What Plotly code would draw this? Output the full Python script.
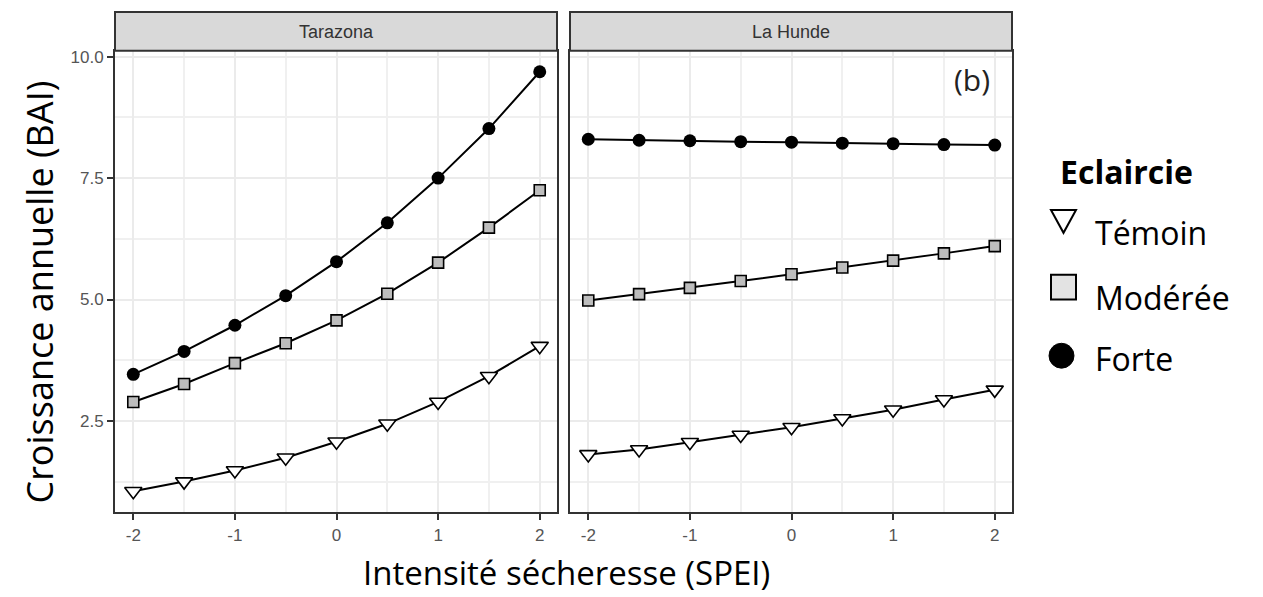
import plotly.graph_objects as go

# ---- data ----
spei = [-2, -1.5, -1, -0.5, 0, 0.5, 1, 1.5, 2]
sites = ["Tarazona", "La Hunde"]
treatments = ["Témoin", "Modérée", "Forte"]

taraz_temoin = [1.05, 1.25, 1.48, 1.74, 2.07, 2.44, 2.89, 3.42, 4.04]
taraz_moderee = [2.89, 3.26, 3.69, 4.10, 4.57, 5.12, 5.76, 6.48, 7.25]
taraz_forte = [3.46, 3.93, 4.47, 5.08, 5.78, 6.58, 7.50, 8.52, 9.69]

hunde_temoin = [1.81, 1.91, 2.06, 2.21, 2.37, 2.55, 2.73, 2.94, 3.14]
hunde_moderee = [4.98, 5.11, 5.24, 5.38, 5.52, 5.66, 5.80, 5.95, 6.10]
hunde_forte = [8.30, 8.28, 8.27, 8.25, 8.24, 8.22, 8.21, 8.19, 8.18]

y_tickvals = [2.5, 5.0, 7.5, 10.0]
y_ticktext = ["2.5", "5.0", "7.5", "10.0"]
x_tickvals = [-2, -1, 0, 1, 2]
x_ticktext = ["-2", "-1", "0", "1", "2"]

legend_title = "Eclaircie"

# ---- styles ----
W, H = 1263, 597
marker_styles = {
    "Témoin": dict(symbol="triangle-down", size=15, color="white", line=dict(color="black", width=1.6)),
    "Modérée": dict(symbol="square", size=11, color="#bdbdbd", line=dict(color="black", width=1.6)),
    "Forte": dict(symbol="circle", size=13, color="black", line=dict(color="black", width=0)),
}

data = {
    ("Tarazona", "Témoin"): taraz_temoin,
    ("Tarazona", "Modérée"): taraz_moderee,
    ("Tarazona", "Forte"): taraz_forte,
    ("La Hunde", "Témoin"): hunde_temoin,
    ("La Hunde", "Modérée"): hunde_moderee,
    ("La Hunde", "Forte"): hunde_forte,
}

def px_x(p):
    return p / W

def px_y(p):
    return (H - p) / H

dom_left = [px_x(115), px_x(557)]
dom_right = [px_x(570), px_x(1012)]
dom_y = [px_y(512), px_y(48)]

fig = go.Figure()

axis_refs = {"Tarazona": ("x", "y"), "La Hunde": ("x2", "y2")}
for site in sites:
    xa, ya = axis_refs[site]
    for t in treatments:
        fig.add_trace(go.Scatter(
            x=spei, y=data[(site, t)], mode="lines+markers",
            line=dict(color="black", width=2),
            marker=marker_styles[t], xaxis=xa, yaxis=ya,
            showlegend=False, name=t, cliponaxis=False,
        ))

tick_font = dict(family="Liberation Sans, Arial", size=17, color="#555555")
common_x = dict(
    range=[-2.18, 2.17], tickvals=x_tickvals, ticktext=x_ticktext,
    showgrid=True, gridcolor="#ebebeb", gridwidth=2,
    minor=dict(dtick=0.5, tick0=0, showgrid=True, gridcolor="#f0f0f0", gridwidth=1.5, ticks=""),
    ticks="outside", ticklen=6, tickwidth=2, tickcolor="#333333",
    showline=True, mirror=True, linecolor="#333333", linewidth=2,
    zeroline=False, tickfont=tick_font,
)
common_y = dict(
    range=[0.615, 10.123], tickvals=y_tickvals, ticktext=y_ticktext,
    showgrid=True, gridcolor="#ebebeb", gridwidth=2,
    minor=dict(dtick=1.25, tick0=0, showgrid=True, gridcolor="#f0f0f0", gridwidth=1.5, ticks=""),
    ticks="outside", ticklen=6, tickwidth=2, tickcolor="#333333",
    showline=True, mirror=True, linecolor="#333333", linewidth=2,
    zeroline=False, tickfont=tick_font, domain=dom_y,
)

fig.update_layout(
    xaxis=dict(common_x, domain=dom_left, anchor="y"),
    xaxis2=dict(common_x, domain=dom_right, anchor="y2"),
    yaxis=dict(common_y, anchor="x"),
    yaxis2=dict(common_y, anchor="x2", showticklabels=False, ticks=""),
)

# strips
for dom, site in [(dom_left, "Tarazona"), (dom_right, "La Hunde")]:
    fig.add_shape(type="rect", xref="paper", yref="paper",
                  x0=dom[0], x1=dom[1], y0=px_y(48), y1=px_y(9),
                  fillcolor="#d9d9d9", line=dict(color="#333333", width=2))
    fig.add_annotation(x=(dom[0] + dom[1]) / 2, y=px_y(29), xref="paper", yref="paper",
                       text=site, showarrow=False, xanchor="center", yanchor="middle",
                       font=dict(family="Liberation Sans, Arial", size=18, color="#333333"))

# panel tag
fig.add_annotation(x=px_x(992), y=px_y(77), xref="paper", yref="paper", text="(b)",
                   showarrow=False, xanchor="right", yanchor="middle",
                   font=dict(family="Open Sans", size=30, color="#222222"))

# axis titles
fig.add_annotation(x=px_x(40), y=px_y(291), xref="paper", yref="paper",
                   text="Croissance annuelle (BAI)", textangle=-90, showarrow=False,
                   xanchor="center", yanchor="middle",
                   font=dict(family="Open Sans", size=36, color="black"))
fig.add_annotation(x=px_x(566), y=0, xref="paper", yref="paper",
                   text="Intensité sécheresse (SPEI)", showarrow=False,
                   xanchor="center", yanchor="bottom",
                   font=dict(family="Open Sans", size=33, color="black"))

# ---- custom legend (drawn as in the reference) ----
fig.add_annotation(x=px_x(1058), y=px_y(169), xref="paper", yref="paper",
                   text="<b>%s</b>" % legend_title, showarrow=False,
                   xanchor="left", yanchor="middle",
                   font=dict(family="Open Sans", size=32, color="black"))
legend_rows = {"Témoin": 231, "Modérée": 296, "Forte": 357}
for t in treatments:
    fig.add_annotation(x=px_x(1093), y=px_y(legend_rows[t]), xref="paper", yref="paper",
                       text=t, showarrow=False, xanchor="left", yanchor="middle",
                       font=dict(family="Open Sans", size=32, color="black"))

# triangle (open, pointing down)
tri = "M %f %f L %f %f L %f %f Z" % (px_x(1051), px_y(208), px_x(1076), px_y(208),
                                     px_x(1063.5), px_y(231))
fig.add_shape(type="path", xref="paper", yref="paper", path=tri,
              fillcolor="white", line=dict(color="black", width=2))
fig.add_shape(type="rect", xref="paper", yref="paper",
              x0=px_x(1051), x1=px_x(1076), y0=px_y(298), y1=px_y(273),
              fillcolor="#e3e3e3", line=dict(color="black", width=2))
fig.add_shape(type="circle", xref="paper", yref="paper",
              x0=px_x(1049), x1=px_x(1074), y0=px_y(367), y1=px_y(342),
              fillcolor="black", line=dict(color="black", width=1))

fig.update_layout(
    width=W, height=H,
    margin=dict(l=0, r=0, t=0, b=0),
    paper_bgcolor="white", plot_bgcolor="white",
    showlegend=False,
)

fig.write_html("out.html")
